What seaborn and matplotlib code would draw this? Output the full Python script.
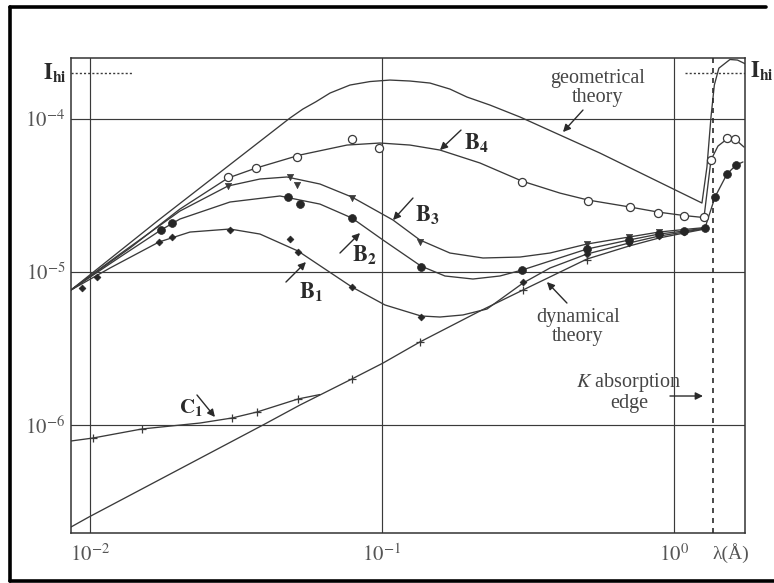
import numpy as np
import pandas as pd
import matplotlib
matplotlib.use("Agg")
import matplotlib.pyplot as plt
import matplotlib.transforms as mtransforms
from matplotlib.lines import Line2D
from matplotlib.ticker import NullLocator
import seaborn as sns

# ---------------- data (wavelength in Angstrom, integrated intensity) ----------------
geo_lam = [0.00861, 0.0172, 0.0484, 0.0536, 0.0594, 0.0664, 0.0777, 0.0910, 0.1065, 0.1247,
           0.146, 0.1709, 0.1954, 0.2344, 0.297, 0.558, 1.247, 1.297, 1.339, 1.375,
           1.425, 1.555, 1.65, 1.751]
geo_I = [7.63e-6, 2.19e-5, 1.015e-4, 1.162e-4, 1.297e-4, 1.479e-4, 1.668e-4, 1.758e-4, 1.798e-4, 1.772e-4,
         1.719e-4, 1.57e-4, 1.393e-4, 1.234e-4, 1.031e-4, 5.99e-5, 2.825e-5, 4.86e-5, 1.03e-4, 1.67e-4,
         2.15e-4, 2.45e-4, 2.43e-4, 2.30e-4]

b4_lam = [0.00861, 0.01371, 0.02033, 0.02969, 0.03703, 0.05239, 0.0759, 0.0984, 0.1247, 0.158,
          0.2166, 0.3017, 0.4071, 0.5076, 0.7069, 0.8814, 1.082, 1.267, 1.307, 1.339,
          1.415, 1.519, 1.618, 1.737]
b4_I = [7.63e-6, 1.435e-5, 2.58e-5, 4.115e-5, 4.78e-5, 5.82e-5, 6.76e-5, 6.97e-5, 6.76e-5, 6.27e-5,
        5.16e-5, 3.93e-5, 3.28e-5, 2.955e-5, 2.66e-5, 2.466e-5, 2.34e-5, 2.27e-5, 3.70e-5, 5.40e-5,
        6.66e-5, 7.40e-5, 7.40e-5, 6.56e-5]
b4_pts_lam = [0.02969, 0.03703, 0.05116, 0.07891, 0.0977, 0.3017, 0.5076, 0.7069, 0.8814, 1.082,
              1.267, 1.339, 1.519, 1.618]
b4_pts_I = [4.18e-5, 4.78e-5, 5.64e-5, 7.40e-5, 6.46e-5, 3.875e-5, 2.91e-5, 2.66e-5, 2.43e-5, 2.32e-5,
            2.288e-5, 5.40e-5, 7.51e-5, 7.40e-5]

b3_lam = [0.00861, 0.01267, 0.02033, 0.02969, 0.03821, 0.04727, 0.06133, 0.07891, 0.1091, 0.1349,
          0.1709, 0.2218, 0.297, 0.3761, 0.5036, 0.7013, 0.8884, 1.082, 1.277]
b3_I = [7.63e-6, 1.311e-5, 2.504e-5, 3.65e-5, 4.055e-5, 4.18e-5, 3.76e-5, 3.09e-5, 2.187e-5, 1.619e-5,
        1.331e-5, 1.235e-5, 1.253e-5, 1.331e-5, 1.524e-5, 1.693e-5, 1.825e-5, 1.896e-5, 1.953e-5]
b3_pts_lam = [0.02969, 0.04841, 0.05116, 0.07891, 0.1349, 0.5036, 0.7013, 0.8884]
b3_pts_I = [3.65e-5, 4.18e-5, 3.70e-5, 3.045e-5, 1.571e-5, 1.524e-5, 1.693e-5, 1.825e-5]

b2_lam = [0.00861, 0.01267, 0.0175, 0.02033, 0.03016, 0.04474, 0.06133, 0.07891, 0.1008, 0.136,
          0.1643, 0.2049, 0.2535, 0.3017, 0.3761, 0.5036, 0.7013, 0.8884, 1.082, 1.277,
          1.382, 1.519, 1.631, 1.723]
b2_I = [7.63e-6, 1.253e-5, 1.882e-5, 2.22e-5, 2.868e-5, 3.14e-5, 2.78e-5, 2.254e-5, 1.619e-5, 1.094e-5,
        9.42e-6, 9.00e-6, 9.42e-6, 1.03e-5, 1.18e-5, 1.413e-5, 1.619e-5, 1.771e-5, 1.853e-5, 1.939e-5,
        3.09e-5, 4.37e-5, 5.00e-5, 5.24e-5]
b2_pts_lam = [0.0175, 0.01909, 0.04765, 0.05239, 0.07891, 0.136, 0.3017, 0.5036, 0.7013, 0.8884,
              1.082, 1.277, 1.382, 1.519, 1.631]
b2_pts_I = [1.882e-5, 2.09e-5, 3.09e-5, 2.78e-5, 2.254e-5, 1.078e-5, 1.03e-5, 1.413e-5, 1.619e-5, 1.771e-5,
            1.853e-5, 1.939e-5, 3.09e-5, 4.37e-5, 5.00e-5]

b1_lam = [0.00861, 0.01171, 0.01723, 0.0220, 0.03016, 0.03821, 0.05157, 0.0638, 0.07891, 0.1024,
          0.136, 0.158, 0.1894, 0.2289, 0.3041, 0.3761, 0.5036, 0.7013, 0.8884, 1.082, 1.277]
b1_I = [7.63e-6, 1.062e-5, 1.571e-5, 1.825e-5, 1.910e-5, 1.771e-5, 1.372e-5, 1.046e-5, 7.98e-6, 6.09e-6,
        5.16e-6, 5.08e-6, 5.24e-6, 5.73e-6, 8.47e-6, 1.062e-5, 1.311e-5, 1.547e-5, 1.718e-5, 1.825e-5, 1.925e-5]
b1_pts_lam = [0.00939, 0.01057, 0.01723, 0.01909, 0.03016, 0.04841, 0.05157, 0.07891, 0.136, 0.3041,
              0.5036, 0.7013, 0.8884, 1.082]
b1_pts_I = [7.86e-6, 9.27e-6, 1.571e-5, 1.693e-5, 1.882e-5, 1.643e-5, 1.351e-5, 7.98e-6, 5.08e-6, 8.60e-6,
            1.311e-5, 1.547e-5, 1.718e-5, 1.825e-5]

dyn_lam = [0.00861, 0.00992, 0.03913, 0.05239, 0.07891, 0.1008, 0.1349, 0.2166, 0.3041, 0.5036,
           0.7013, 0.8884, 1.082, 1.277]
dyn_I = [2.154e-7, 2.505e-7, 1.0e-6, 1.351e-6, 2.0e-6, 2.54e-6, 3.49e-6, 5.56e-6, 7.63e-6, 1.216e-5,
         1.478e-5, 1.668e-5, 1.798e-5, 1.910e-5]

c1_lam = [0.00861, 0.01024, 0.01507, 0.0238, 0.03064, 0.03732, 0.05157, 0.06133]
c1_I = [7.86e-7, 8.22e-7, 9.42e-7, 1.030e-6, 1.111e-6, 1.216e-6, 1.479e-6, 1.582e-6]
c1_pts_lam = [0.01024, 0.01507, 0.03064, 0.03732, 0.05157, 0.07891, 0.1349, 0.3041, 0.5036]
c1_pts_I = [8.22e-7, 9.42e-7, 1.111e-6, 1.216e-6, 1.479e-6, 2.0e-6, 3.49e-6, 7.63e-6, 1.198e-5]

k_edge = 1.36
i_hi = 2.0e-4
i_hi_left = [0.00861, 0.01393]
i_hi_right = [1.091, 1.751]

xtick_vals = [1e-2, 1e-1, 1e0]
xtick_labels = [r"$10^{-2}$", r"$10^{-1}$", r"$10^{0}$"]
ytick_vals = [1e-6, 1e-5, 1e-4]
ytick_labels = [r"$10^{-6}$", r"$10^{-5}$", r"$10^{-4}$"]

# ---------------- style ----------------
sns.set_theme(style="white")
plt.rcParams["font.family"] = ["Liberation Serif", "DejaVu Serif"]
plt.rcParams["mathtext.fontset"] = "stix"

LC = "#3a3a3a"
TC = "#454545"

fig = plt.figure(figsize=(7.74, 5.83), dpi=100)
ax = fig.add_axes([71 / 774, 1 - 533 / 583, 674 / 774, 475 / 583])
ax.set_xscale("log")
ax.set_yscale("log")

# curves
for lam, inten in [(geo_lam, geo_I), (b4_lam, b4_I), (b3_lam, b3_I), (b2_lam, b2_I),
                   (b1_lam, b1_I), (dyn_lam, dyn_I), (c1_lam, c1_I)]:
    sns.lineplot(x=lam, y=inten, ax=ax, color=LC, lw=0.95, sort=False, estimator=None)

# data points
sns.scatterplot(x=b4_pts_lam, y=b4_pts_I, ax=ax, marker="o", s=34, facecolor="white",
                edgecolor=LC, linewidth=0.9, zorder=5)
sns.scatterplot(x=b3_pts_lam, y=b3_pts_I, ax=ax, marker="v", s=20, color=LC,
                edgecolor=LC, linewidth=0.5, zorder=5)
sns.scatterplot(x=b2_pts_lam, y=b2_pts_I, ax=ax, marker="o", s=32, color="#262626",
                edgecolor="#262626", linewidth=0.5, zorder=5)
sns.scatterplot(x=b1_pts_lam, y=b1_pts_I, ax=ax, marker="D", s=12, color="#262626",
                edgecolor="#262626", linewidth=0.5, zorder=5)
sns.scatterplot(x=c1_pts_lam, y=c1_pts_I, ax=ax, marker="+", s=30, color=LC,
                linewidth=0.9, zorder=5)

ax.set_xlim(0.00861, 1.751)
ax.set_ylim(1.968e-7, 2.506e-4)

# K edge and I_hi levels
ax.axvline(k_edge, color="#2a2a2a", lw=1.2, ls=(0, (3, 3)), zorder=4)
ax.plot(i_hi_left, [i_hi, i_hi], color=LC, lw=1.0, ls=(0, (1.5, 1.5)))
ax.plot(i_hi_right, [i_hi, i_hi], color=LC, lw=1.0, ls=(0, (1.5, 1.5)))

# axes cosmetics
ax.set_xticks(xtick_vals)
ax.set_xticklabels(xtick_labels)
ax.set_yticks(ytick_vals)
ax.set_yticklabels(ytick_labels)
ax.xaxis.set_minor_locator(NullLocator())
ax.yaxis.set_minor_locator(NullLocator())
ax.tick_params(axis="both", length=0, labelsize=15, labelcolor="#555555")
ax.tick_params(axis="x", pad=8)
ax.tick_params(axis="y", pad=4)
ax.grid(True, which="major", color=LC, lw=0.85)
for s in ax.spines.values():
    s.set_color("#333333")
    s.set_linewidth(1.1)
ax.set_xlabel("")
ax.set_ylabel("")

# labels
bt = mtransforms.blended_transform_factory(ax.transAxes, ax.transData)
ax.text(-0.006, i_hi, r"$\mathbf{I}_{\mathbf{hi}}$", transform=bt, ha="right", va="center",
        fontsize=16, color="#2a2a2a")
ax.text(1.008, i_hi * 1.04, r"$\mathbf{I}_{\mathbf{hi}}$", transform=bt, ha="left", va="center",
        fontsize=16, color="#2a2a2a", clip_on=False)
bx = mtransforms.blended_transform_factory(ax.transData, ax.transAxes)
ax.text(1.568, -0.043, "λ(Å)", transform=bx, ha="center", va="center", fontsize=14, color="#555555")

arrow = dict(arrowstyle="-|>", color="#2a2a2a", lw=1.0, mutation_scale=11, shrinkA=0, shrinkB=0)
ax.text(0.549, 1.594e-4, "geometrical\ntheory", ha="center", va="center", fontsize=14.5,
        color=TC, linespacing=1.05)
ax.annotate("", xy=(0.4168, 8.22e-5), xytext=(0.488, 1.145e-4), arrowprops=arrow)

ax.text(0.2099, 6.97e-5, r"$\mathbf{B_4}$", ha="center", va="center", fontsize=16, color="#2a2a2a")
ax.annotate("", xy=(0.158, 6.27e-5), xytext=(0.1865, 8.47e-5), arrowprops=arrow)
ax.text(0.1426, 2.36e-5, r"$\mathbf{B_3}$", ha="center", va="center", fontsize=16, color="#2a2a2a")
ax.annotate("", xy=(0.1091, 2.187e-5), xytext=(0.1277, 3.045e-5), arrowprops=arrow)
ax.text(0.0868, 1.292e-5, r"$\mathbf{B_2}$", ha="center", va="center", fontsize=16, color="#2a2a2a")
ax.annotate("", xy=(0.0841, 1.798e-5), xytext=(0.0718, 1.331e-5), arrowprops=arrow)
ax.text(0.0571, 7.40e-6, r"$\mathbf{B_1}$", ha="center", va="center", fontsize=16, color="#2a2a2a")
ax.annotate("", xy=(0.0549, 1.162e-5), xytext=(0.0469, 8.60e-6), arrowprops=arrow)

ax.text(0.469, 4.37e-6, "dynamical\ntheory", ha="center", va="center", fontsize=14.5,
        color=TC, linespacing=1.05)
ax.annotate("", xy=(0.3673, 8.60e-6), xytext=(0.430, 6.27e-6), arrowprops=arrow)

ax.text(0.7013, 1.643e-6, r"$K$ absorption" + "\nedge", ha="center", va="center", fontsize=14.5,
        color=TC, linespacing=1.05)
ax.annotate("", xy=(1.257, 1.547e-6), xytext=(0.969, 1.547e-6), arrowprops=arrow)

ax.text(0.0222, 1.311e-6, r"$\mathbf{C_1}$", ha="center", va="center", fontsize=15, color="#2a2a2a")
ax.annotate("", xy=(0.02679, 1.128e-6), xytext=(0.02325, 1.571e-6), arrowprops=arrow)

# outer frame of the scanned figure
fx = lambda p: p / 774
fy = lambda p: 1 - p / 583
for xs, ys in [((10, 10), (7, 581)), ((10, 766), (7, 7)), ((10, 774), (581, 581))]:
    fig.add_artist(Line2D([fx(xs[0]), fx(xs[1])], [fy(ys[0]), fy(ys[1])],
                          transform=fig.transFigure, color="black", lw=2.6))

fig.savefig("out.png", dpi=100)
